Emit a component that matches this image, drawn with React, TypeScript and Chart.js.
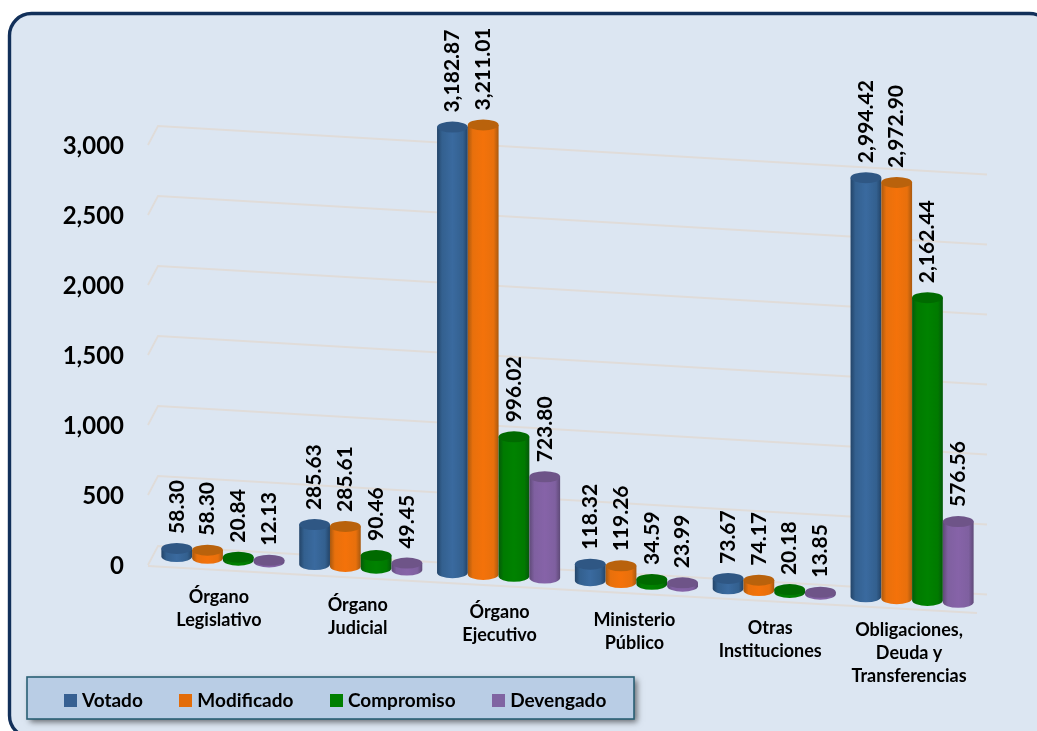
import React, { useEffect, useRef } from "react";
import { Chart, registerables } from "chart.js";

Chart.register(...registerables);

const categories = [
  ["Órgano", "Legislativo"],
  ["Órgano", "Judicial"],
  ["Órgano", "Ejecutivo"],
  ["Ministerio", "Público"],
  ["Otras", "Instituciones"],
  ["Obligaciones,", "Deuda y", "Transferencias"],
];
const votado = [58.3, 285.63, 3182.87, 118.32, 73.67, 2994.42];
const modificado = [58.3, 285.61, 3211.01, 119.26, 74.17, 2972.9];
const compromiso = [20.84, 90.46, 996.02, 34.59, 20.18, 2162.44];
const devengado = [12.13, 49.45, 723.8, 23.99, 13.85, 576.56];

const legendColors = ["#376092", "#e36c09", "#007f00", "#8064a2"];
const shades = [
  { edge: "#234468", mid: "#33608f", center: "#3a6a9f", top: "#2f5784" },
  { edge: "#a9590f", mid: "#e8700c", center: "#f4720a", top: "#b9620c" },
  { edge: "#05590a", mid: "#007a00", center: "#008200", top: "#006a00" },
  { edge: "#5f4a78", mid: "#7f60a0", center: "#8663a8", top: "#6e5488" },
];

const FONT = "Lato, Carlito, sans-serif";
const SLOPE = 0.0585;
const RY = 5.5;
const labelNudgeX = [-4, -3, 1, -2, -4, -3];
const labelNudgeY = [0, 0, 0, 0, 0, -6];

const fmt = (v: number, d: number) =>
  v.toLocaleString("en-US", { minimumFractionDigits: d, maximumFractionDigits: d });

function cylinder(ctx: CanvasRenderingContext2D, x: number, top: number, base: number, w: number, c: any) {
  const rx = w / 2;
  const l = x - rx;
  const r = x + rx;
  const g = ctx.createLinearGradient(l, 0, r, 0);
  g.addColorStop(0, c.edge);
  g.addColorStop(0.16, c.mid);
  g.addColorStop(0.5, c.center);
  g.addColorStop(0.84, c.mid);
  g.addColorStop(1, c.edge);
  ctx.beginPath();
  ctx.moveTo(l, top);
  ctx.lineTo(l, base);
  ctx.ellipse(x, base, rx, RY, 0, Math.PI, 0, true);
  ctx.lineTo(r, top);
  ctx.closePath();
  ctx.fillStyle = g;
  ctx.fill();
  ctx.beginPath();
  ctx.ellipse(x, top, rx, RY, 0, 0, Math.PI * 2);
  ctx.fillStyle = c.top;
  ctx.fill();
}

const scenePlugin = {
  id: "scene",
  afterLayout(chart: any) {
    const lg = chart.legend;
    if (lg) {
      lg.left = 27.5;
      lg.top = 650;
      lg.bottom = lg.top + lg.height;
      lg.right = 1037;
    }
  },
  beforeDraw(chart: any) {
    const { ctx, width, height } = chart;
    ctx.save();
    ctx.fillStyle = "#ffffff";
    ctx.fillRect(0, 0, width, height);
    ctx.beginPath();
    ctx.roundRect(9.5, 13.5, 1042, 724, 22);
    ctx.fillStyle = "#dce6f2";
    ctx.fill();
    ctx.lineWidth = 3.4;
    ctx.strokeStyle = "#12305a";
    ctx.stroke();

    ctx.save();
    ctx.shadowColor = "rgba(0,0,0,0.55)";
    ctx.shadowBlur = 6;
    ctx.shadowOffsetX = 3;
    ctx.shadowOffsetY = 3;
    ctx.fillStyle = "#b9cde5";
    ctx.fillRect(27, 677, 607, 42);
    ctx.restore();
    ctx.lineWidth = 1.6;
    ctx.strokeStyle = "#2a6075";
    ctx.strokeRect(27, 677, 607, 42);
    ctx.restore();
  },
  beforeDatasetsDraw(chart: any) {
    const { ctx, scales } = chart;
    const y = scales.y;
    ctx.save();
    ctx.strokeStyle = "#e0dcd9";
    ctx.lineWidth = 1.8;
    y.ticks.forEach((t: any) => {
      const p = y.getPixelForValue(t.value);
      ctx.beginPath();
      ctx.moveTo(148, p - 1);
      ctx.lineTo(158, p - 20);
      ctx.lineTo(987, p - 20 + SLOPE * 829);
      ctx.stroke();
    });
    const z = y.getPixelForValue(0);
    ctx.beginPath();
    ctx.moveTo(148, z);
    ctx.lineTo(977, z + 47);
    ctx.stroke();
    ctx.restore();
  },
  afterDatasetsDraw(chart: any) {
    const { ctx, scales } = chart;
    ctx.save();
    const metas = chart.data.datasets.map((_: any, i: number) => chart.getDatasetMeta(i));
    const dyAt = (x: number) => -9.5 + SLOPE * (x - 176);
    ctx.save();
    ctx.filter = "blur(0.6px)";
    categories.forEach((_, i) => {
      metas.forEach((m: any, s: number) => {
        const b = m.data[i];
        const dy = dyAt(b.x);
        cylinder(ctx, b.x, b.y + dy, b.base + dy, b.width, shades[s]);
      });
    });
    ctx.restore();
    ctx.fillStyle = "#000";
    ctx.font = `700 21px ${FONT}`;
    ctx.textAlign = "left";
    ctx.textBaseline = "middle";
    metas.forEach((m: any, s: number) => {
      m.data.forEach((b: any, i: number) => {
        const v = chart.data.datasets[s].data[i];
        ctx.save();
        ctx.translate(b.x, b.y + dyAt(b.x) - RY - 9);
        ctx.rotate(-Math.PI / 2);
        ctx.fillText(fmt(v, 2), 0, 0);
        ctx.restore();
      });
    });
    ctx.font = `700 18px ${FONT}`;
    ctx.textAlign = "center";
    categories.forEach((lines, i) => {
      const cx = scales.x.getPixelForValue(i) + labelNudgeX[i];
      const y0 = 597 + 7.75 * i + labelNudgeY[i];
      lines.forEach((line, k) => ctx.fillText(line, cx, y0 + k * 23));
    });
    ctx.restore();
  },
};

function swatch(color: string) {
  const c = document.createElement("canvas");
  c.width = 13;
  c.height = 13;
  const x = c.getContext("2d")!;
  x.fillStyle = color;
  x.fillRect(0, 0, 13, 13);
  return c;
}

export default function App() {
  const ref = useRef<HTMLCanvasElement>(null);
  useEffect(() => {
    if (!ref.current) return;
    const names = ["Votado", "Modificado", "Compromiso", "Devengado"];
    const series = [votado, modificado, compromiso, devengado];
    const swatches = legendColors.map(swatch);
    const chart = new Chart(ref.current, {
      type: "bar",
      data: {
        labels: categories.map((c) => c.join(" ")),
        datasets: series.map((data, i) => ({
          label: names[i],
          data,
          backgroundColor: "rgba(0,0,0,0)",
          categoryPercentage: 0.893,
          barPercentage: 1,
          clip: false as any,
        })),
      },
      options: {
        responsive: false,
        animation: false,
        devicePixelRatio: 1,
        events: [],
        layout: { padding: { left: 0, right: 56, top: 146, bottom: 87 } },
        scales: {
          x: {
            grid: { display: false },
            border: { display: false },
            ticks: { display: false },
          },
          y: {
            min: 0,
            max: 3000,
            afterFit: (s: any) => {
              s.width = 154;
            },
            grid: { display: false },
            border: { display: false },
            ticks: {
              stepSize: 500,
              padding: 22,
              color: "#000",
              font: { family: FONT, size: 24, weight: 700 },
              callback: (v: any) => fmt(Number(v), 0),
            },
          },
        },
        plugins: {
          tooltip: { enabled: false },
          legend: {
            position: "bottom",
            align: "start",
            labels: {
              usePointStyle: true,
              boxWidth: 4,
              padding: 41,
              color: "#000",
              font: { family: FONT, size: 19, weight: 700 },
              generateLabels: (ch: any) =>
                ch.data.datasets.map((d: any, i: number) => ({
                  text: d.label,
                  datasetIndex: i,
                  pointStyle: swatches[i],
                  fontColor: "#000",
                  lineWidth: 0,
                })),
            },
          },
        },
      } as any,
      plugins: [scenePlugin as any],
    });
    return () => chart.destroy();
  }, []);
  return (
    <div style={{ position: "absolute", left: 0, top: 0, width: 1037, height: 731, overflow: "hidden" }}>
      <canvas ref={ref} width={1037} height={731} style={{ display: "block" }} />
    </div>
  );
}
